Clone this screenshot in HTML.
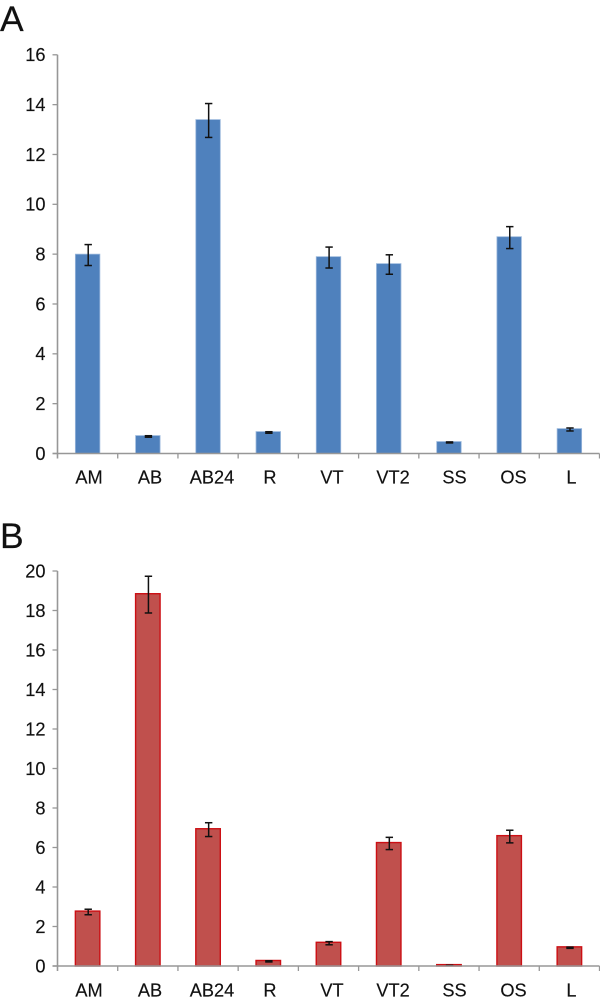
<!DOCTYPE html>
<html>
<head>
<meta charset="utf-8">
<style>
html,body{margin:0;padding:0;background:#fff;width:600px;height:1001px;overflow:hidden}
svg{display:block}
text{font-family:"Liberation Sans",sans-serif;fill:#111;stroke:#111;stroke-width:0.15}
</style>
</head>
<body>
<svg id="figure" width="600" height="1001" viewBox="0 0 600 1001" xmlns="http://www.w3.org/2000/svg">
<text x="0" y="31" font-size="35.5">A</text>
<text x="0" y="548" font-size="35.5">B</text>
<g id="panel-a"></g>
<g id="panel-b"></g>
</svg>
<script>
const categories = ['AM','AB','AB24','R','VT','VT2','SS','OS','L'];
const seriesA = [8.0,0.72,13.4,0.88,7.9,7.62,0.48,8.7,1.0];
const errorsA = [0.42,0.03,0.68,0.03,0.42,0.39,0.02,0.44,0.06];
const seriesB = [2.78,18.85,6.95,0.28,1.2,6.25,0.07,6.6,0.97];
const errorsB = [0.14,0.93,0.35,0.03,0.08,0.31,0.01,0.32,0.03];
const ticksA = [0,2,4,6,8,10,12,14,16];
const ticksB = [0,2,4,6,8,10,12,14,16,18,20];

const NS = 'http://www.w3.org/2000/svg';
function make(parent, tag, attrs, text) {
  const el = document.createElementNS(NS, tag);
  for (const k in attrs) el.setAttribute(k, attrs[k]);
  if (text !== undefined) el.textContent = text;
  parent.appendChild(el);
  return el;
}
function labelNudge(i) {
  return [1.4,2.2,4,1.7,3.5,4.3,5.6,4.3,2.1][i];
}
function drawPanel(cfg) {
  const g = document.getElementById(cfg.id);
  const left = 57.5, right = 599.5;
  const band = (right - left) / categories.length;
  const yScale = v => cfg.y0 - (v / cfg.max) * (cfg.y0 - cfg.yTop);
  const xCenter = i => left + band * (i + 0.5);
  const axisColor = '#979797';

  cfg.values.forEach((v, i) => {
    const w = 24.5;
    const bar = make(g, 'rect', {
      x: xCenter(i) - w / 2, y: yScale(v), width: w,
      height: cfg.y0 - yScale(v), fill: cfg.fill,
      stroke: cfg.stroke, 'stroke-width': cfg.strokeWidth
    });
    
    
  });

  cfg.values.forEach((v, i) => {
    const e = cfg.errors[i];
    const cx = xCenter(i) + 0.6;
    const shift = 0.9;
    const top = yScale(v + e) + shift;
    const bottom = yScale(v - e) + shift;
    const group = make(g, 'g', {stroke:'#111', 'stroke-width':1.5, fill:'none'});
    
    
    make(group, 'line', {x1:cx, x2:cx, y1:top, y2:bottom});
    make(group, 'line', {x1:cx - 3.7, x2:cx + 3.7, y1:top, y2:top});
    make(group, 'line', {x1:cx - 3.7, x2:cx + 3.7, y1:bottom, y2:bottom});
  });

  const yAxis = make(g, 'line', {x1:left, x2:left, y1:cfg.yTop, y2:cfg.y0 + 5, stroke:axisColor, 'stroke-width':1.6});
  
  
  const xAxis = make(g, 'line', {x1:left - 5, x2:right, y1:cfg.y0, y2:cfg.y0, stroke:axisColor, 'stroke-width':1.6});
  
  

  cfg.ticks.forEach(t => {
    const y = yScale(t);
    const tick = make(g, 'line', {x1:left - 5, x2:left, y1:y, y2:y, stroke:axisColor, 'stroke-width':1.3});
    
    
    const label = make(g, 'text', {x:45.5, y:y + 6.4, 'font-size':18.2, 'text-anchor':'end'}, t);
    
    
  });

  categories.forEach((c, i) => {
    const tx = left + band * (i + 1);
    const tick = make(g, 'line', {x1:tx, x2:tx, y1:cfg.y0, y2:cfg.y0 + 5, stroke:axisColor, 'stroke-width':1.3});
    
    
    const label = make(g, 'text', {x:xCenter(i) + labelNudge(i), y:cfg.y0 + cfg.labelOffset, 'font-size':18.2, 'text-anchor':'middle'}, c);
    
    
  });
}
drawPanel({id:'panel-a', y0:453.5, yTop:54.8, max:16, labelOffset:30, values:seriesA, errors:errorsA, ticks:ticksA,
  fill:'#4f81bd', stroke:'#9ab8dc', strokeWidth:0.8});
drawPanel({id:'panel-b', y0:966, yTop:571, max:20, labelOffset:30.5, values:seriesB, errors:errorsB, ticks:ticksB,
  fill:'#c0504d', stroke:'#cc0f14', strokeWidth:1.4});
</script>
</body>
</html>
